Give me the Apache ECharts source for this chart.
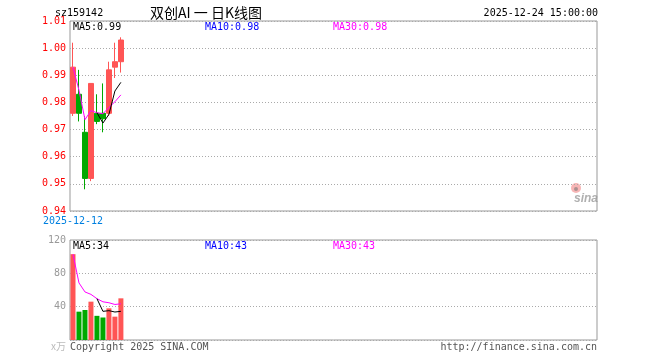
<!DOCTYPE html>
<html>
<head>
<meta charset="utf-8">
<script src="https://cdn.jsdelivr.net/npm/echarts@6/dist/echarts.min.js"></script>
<style>
html,body{margin:0;padding:0;background:#fff;}
#c{width:660px;height:360px;}
</style>
</head>
<body>
<div id="c"></div>
<script>
// ---- data ----
const dates = ['2025-12-12','2025-12-15','2025-12-16','2025-12-17','2025-12-18','2025-12-19','2025-12-22','2025-12-23','2025-12-24'];
const openP  = [0.976, 0.983, 0.969, 0.952, 0.976, 0.976, 0.976, 0.993, 0.995];
const closeP = [0.993, 0.976, 0.952, 0.987, 0.973, 0.974, 0.992, 0.995, 1.003];
const lowP   = [0.975, 0.973, 0.948, 0.951, 0.972, 0.969, 0.975, 0.989, 0.991];
const highP  = [1.002, 0.992, 0.975, 0.987, 0.983, 0.987, 0.995, 1.002, 1.004];
const volume = [103, 34, 36, 46, 29, 27, 38, 28, 50];   // 万
const priceTicks = [0.94, 0.95, 0.96, 0.97, 0.98, 0.99, 1.00, 1.01];
const volTicks = [0, 40, 80, 120];
const totalSlots = 88;

const MONO = '"DejaVu Sans Mono", "Liberation Mono", monospace';
const UP = '#ff5555', DOWN = '#00a800';

const cats = [];
for (let i = 0; i < totalSlots; i++) cats.push(i < dates.length ? dates[i] : ('s' + i));

function ma(arr, n, strict) {
  return arr.map((v, i) => {
    if (strict && i < n - 1) return '-';
    const s = Math.max(0, i - n + 1);
    let sum = 0;
    for (let k = s; k <= i; k++) sum += arr[k];
    return sum / (i - s + 1);
  });
}
const pMA5 = ma(closeP, 5, true), pMA10 = ma(closeP, 10, false), pMA30 = ma(closeP, 30, false);
const vMA5 = ma(volume, 5, true), vMA10 = ma(volume, 10, false), vMA30 = ma(volume, 30, false);
const last = a => a[a.length - 1];

const kData = dates.map((d, i) => [openP[i], closeP[i], lowP[i], highP[i]]);
const volData = volume.map((v, i) => ({value: v, itemStyle: {color: closeP[i] >= openP[i] ? UP : DOWN}}));

const chart = echarts.init(document.getElementById('c'), null, {renderer: 'canvas'});

function txt(x, y, s, color, size, family, align, extra) {
  return {type: 'text', x: x, y: y, silent: true,
    style: Object.assign({text: s, fill: color, font: (size || 10) + 'px ' + (family || MONO),
      textAlign: align || 'left', textVerticalAlign: 'middle'}, extra || {})};
}

function lineS(data, color, xi, yi) {
  return {type: 'line', data: data, xAxisIndex: xi, yAxisIndex: yi, symbol: 'none',
    lineStyle: {color: color, width: 1}, silent: true, animation: false, connectNulls: false};
}

chart.setOption({
  animation: false,
  backgroundColor: '#fff',
  grid: [
    {left: 70, top: 21, width: 527, height: 190, show: true, borderColor: '#999', borderWidth: 1, backgroundColor: 'transparent'},
    {left: 70, top: 240, width: 527, height: 100, show: true, borderColor: '#999', borderWidth: 1, backgroundColor: 'transparent'}
  ],
  xAxis: [
    {type: 'category', gridIndex: 0, data: cats, boundaryGap: true,
      axisLine: {show: false}, axisTick: {show: false}, splitLine: {show: false},
      axisLabel: {interval: (idx) => idx === 0, color: '#0080e0', fontSize: 10, fontFamily: MONO, margin: 5,
        formatter: (v, idx) => idx === 0 ? v : ''}},
    {type: 'category', gridIndex: 1, data: cats, boundaryGap: true,
      axisLine: {show: false}, axisTick: {show: false}, splitLine: {show: false}, axisLabel: {show: false}}
  ],
  yAxis: [
    {type: 'value', gridIndex: 0, min: priceTicks[0], max: last(priceTicks), interval: 0.01, scale: true,
      axisLine: {show: false}, axisTick: {show: false},
      axisLabel: {color: '#ff0000', fontSize: 10, fontFamily: MONO, margin: 4, formatter: v => v.toFixed(2)},
      splitLine: {show: true, lineStyle: {color: '#aaa', type: [1, 2], width: 1}}},
    {type: 'value', gridIndex: 1, min: volTicks[0], max: last(volTicks), interval: 40,
      axisLine: {show: false}, axisTick: {show: false},
      axisLabel: {color: '#999', fontSize: 10, fontFamily: MONO, margin: 4, formatter: v => v === 0 ? '' : String(v)},
      splitLine: {show: true, lineStyle: {color: '#aaa', type: [1, 2], width: 1}}}
  ],
  series: [
    {type: 'candlestick', xAxisIndex: 0, yAxisIndex: 0, data: kData, barWidth: 5, silent: true,
      itemStyle: {color: UP, color0: DOWN, borderColor: UP, borderColor0: DOWN, borderWidth: 1}},
    // MA10 coincides with MA30 while fewer than 10 days exist; magenta is drawn over it
    lineS(pMA30, '#ff00ff', 0, 0),
    lineS(pMA5, '#000000', 0, 0),
    {type: 'bar', xAxisIndex: 1, yAxisIndex: 1, data: volData, barWidth: 5, silent: true},
    lineS(vMA30, '#ff00ff', 1, 1),
    lineS(vMA5, '#000000', 1, 1)
  ],
  graphic: [
    txt(55, 13, 'sz159142', '#000', 10),
    txt(150, 13, '双创AI 一 日K线图', '#000', 14, '"Noto Sans CJK SC"'),
    txt(598, 13, '2025-12-24 15:00:00', '#000', 10, MONO, 'right'),
    txt(73, 27, 'MA5:' + last(pMA5).toFixed(2), '#000', 10),
    txt(205, 27, 'MA10:' + last(pMA10).toFixed(2), '#0000ff', 10),
    txt(333, 27, 'MA30:' + last(pMA30).toFixed(2), '#ff00ff', 10),
    txt(73, 246, 'MA5:' + Math.round(last(vMA5)), '#000', 10),
    txt(205, 246, 'MA10:' + Math.round(last(vMA10)), '#0000ff', 10),
    txt(333, 246, 'MA30:' + Math.round(last(vMA30)), '#ff00ff', 10),
    txt(66, 346, 'x万', '#bbb', 10, '"Noto Sans CJK SC"', 'right'),
    txt(70, 347, 'Copyright 2025 SINA.COM', '#555', 10),
    txt(597, 347, 'http://finance.sina.com.cn', '#555', 10, MONO, 'right'),
    {type: 'circle', silent: true, shape: {cx: 576, cy: 188, r: 5}, style: {fill: 'rgba(240,120,120,0.55)'}},
    {type: 'circle', silent: true, shape: {cx: 576, cy: 189, r: 2}, style: {fill: 'rgba(120,120,120,0.6)'}},
    txt(598, 199, 'sina', 'rgba(150,150,150,0.75)', 17, '"DejaVu Sans"', 'right', {fontStyle: 'italic', fontWeight: 'bold'})
  ]
});
</script>
</body>
</html>
